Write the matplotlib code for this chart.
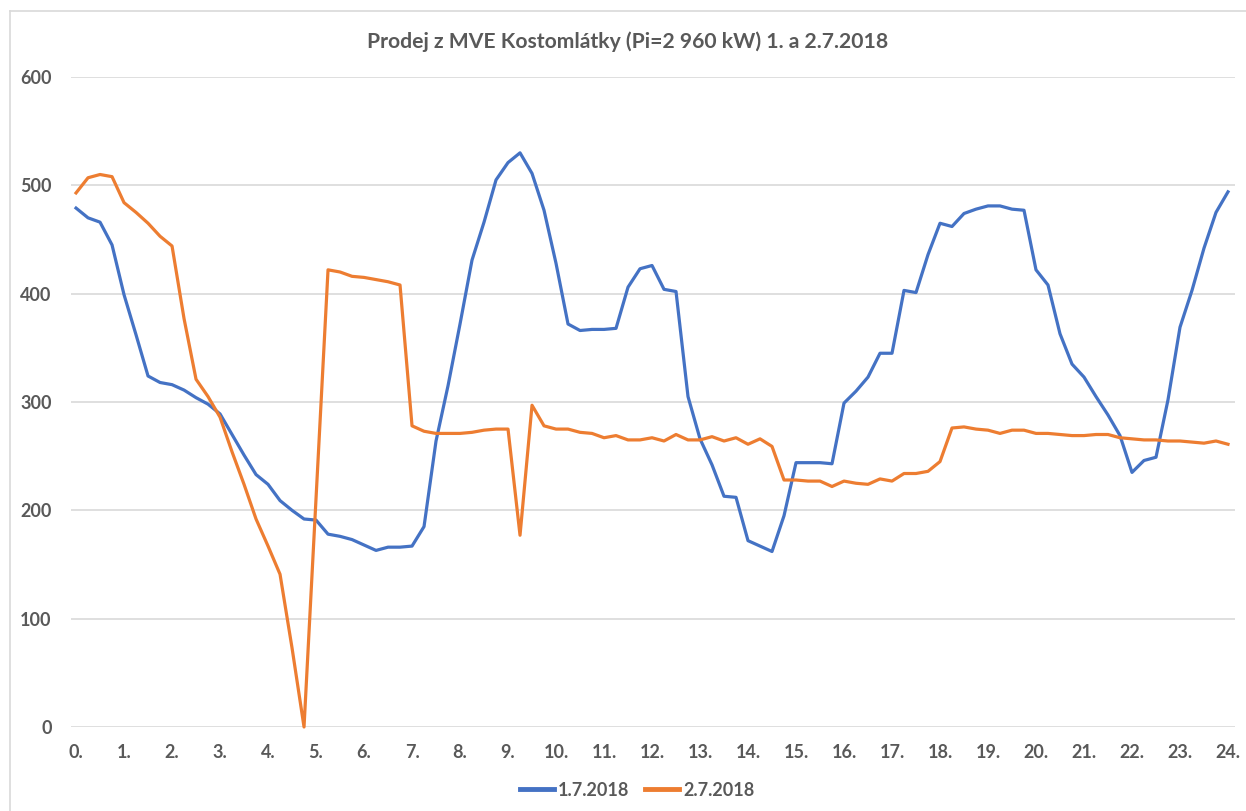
import matplotlib
matplotlib.use('Agg')
import matplotlib.pyplot as plt
from matplotlib.lines import Line2D
import numpy as np

title = 'Prodej z MVE Kostomlátky (Pi=2 960 kW) 1. a 2.7.2018'
labels = ['1.7.2018', '2.7.2018']
hour_labels = [str(h) + '.' for h in range(25)]

# quarter-hour values, 0:00 .. 24:00
day1 = [479, 470, 466, 445, 399, 362, 324, 318, 316, 311, 304, 298, 289, 270, 251, 233,
        224, 209, 200, 192, 191, 178, 176, 173, 168, 163, 166, 166, 167, 185, 264, 315,
        372, 431, 466, 505, 521, 530, 511, 477, 428, 372, 366, 367, 367, 368, 406, 423,
        426, 404, 402, 305, 266, 242, 213, 212, 172, 167, 162, 195, 244, 244, 244, 243,
        299, 310, 323, 345, 345, 403, 401, 436, 465, 462, 474, 478, 481, 481, 478, 477,
        422, 408, 363, 335, 323, 305, 288, 269, 235, 246, 249, 302, 369, 403, 442, 475,
        494]
day2 = [493, 507, 510, 508, 484, 475, 465, 453, 444, 377, 321, 305, 286, 254, 224, 192,
        167, 141, 73, 0, 211, 422, 420, 416, 415, 413, 411, 408, 278, 273, 271, 271,
        271, 272, 274, 275, 275, 177, 297, 278, 275, 275, 272, 271, 267, 269, 265, 265,
        267, 264, 270, 265, 265, 268, 264, 267, 261, 266, 259, 228, 228, 227, 227, 222,
        227, 225, 224, 229, 227, 234, 234, 236, 245, 276, 277, 275, 274, 271, 274, 274,
        271, 271, 270, 269, 269, 270, 270, 267, 266, 265, 265, 264, 264, 263, 262, 264,
        261]

hours = np.arange(len(day1)) / 4.0

grey = '#595959'
plt.rcParams['font.family'] = ['Lato', 'DejaVu Sans']

W, H = 1246, 811
fig = plt.figure(figsize=(W / 100, H / 100), dpi=100)
ax = fig.add_axes([71 / W, 1 - 727 / H, (1235 - 71) / W, (727 - 77) / H])

l1, = ax.plot(hours, day1, color='#4472C4', lw=2.3, solid_joinstyle='round', label=labels[0])
l2, = ax.plot(hours, day2, color='#ED7D31', lw=2.3, solid_joinstyle='round', label=labels[1],
              clip_on=False)

ax.set_xlim(-0.105, 24.146)
ax.set_ylim(0, 600)
ax.set_yticks(range(0, 601, 100))
ax.set_xticks(range(25))
ax.set_xticklabels(hour_labels)
ax.grid(axis='y', color='#D9D9D9', lw=1.2)
ax.set_axisbelow(True)
for s in ax.spines.values():
    s.set_visible(False)
ax.tick_params(length=0, labelsize=13, labelcolor=grey)
ax.tick_params(axis='x', pad=12)
ax.tick_params(axis='y', pad=14)
for t in ax.get_xticklabels() + ax.get_yticklabels():
    t.set_fontweight('bold')

fig.text(628 / W, 1 - 42 / H, title, ha='center', va='center', fontsize=15.2,
         fontweight='bold', color=grey)

leg = fig.legend(handles=[l1, l2], loc='center', bbox_to_anchor=(637 / W, 1 - 790 / H),
                 ncol=2, frameon=False, fontsize=13, handlelength=1.9,
                 handletextpad=0.2, columnspacing=0.9)
for t in leg.get_texts():
    t.set_color(grey)
    t.set_fontweight('bold')
for h in leg.legend_handles:
    h.set_linewidth(3.5)

# chart area border (left and top edges visible)
fig.add_artist(Line2D([10 / W, 10 / W], [0, 1 - 11 / H], color='#D9D9D9', lw=1.2))
fig.add_artist(Line2D([10 / W, 1], [1 - 11 / H, 1 - 11 / H], color='#D9D9D9', lw=1.2))

fig.savefig('out.png', dpi=100)
